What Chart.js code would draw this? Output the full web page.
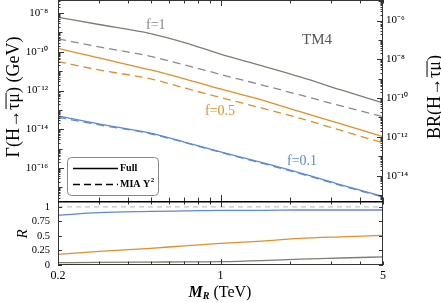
<!DOCTYPE html>
<html><head><meta charset="utf-8">
<script src="https://cdn.jsdelivr.net/npm/chart.js@4/dist/chart.umd.min.js"></script>
<style>
html,body{margin:0;padding:0;background:#fff;width:441px;height:303px;overflow:hidden}
canvas{position:absolute;left:0}
#c1{top:0}
#c2{top:201px}
</style></head><body>
<canvas id="c1" width="441" height="202"></canvas>
<canvas id="c2" width="441" height="102"></canvas>
<script>
// ---- data ----
const massTeV = [0.2, 0.3, 0.5, 0.7, 1, 1.5, 2.2, 3.3, 5];
const gammaFullF1  = [6.0e-9, 2.55e-9, 8.7e-10, 3.0e-10, 7.6e-11, 1.9e-11, 5.0e-12, 1.07e-12, 2.3e-13];
const gammaMiaF1   = [4.6e-10, 1.8e-10, 5.8e-11, 2.1e-11, 6.8e-12, 1.95e-12, 5.9e-13, 1.6e-13, 4.5e-14];
const gammaFullF05 = [1.5e-10, 4.8e-11, 1.15e-11, 4.0e-12, 1.2e-12, 3.3e-13, 8.1e-14, 1.9e-14, 4.2e-15];
const gammaMiaF05  = [3.1e-11, 1.15e-11, 4.0e-12, 1.35e-12, 4.4e-13, 1.26e-13, 3.7e-14, 8.7e-15, 2.0e-15];
const gammaFullF01 = [4.9e-14, 1.9e-14, 6.3e-15, 2.2e-15, 6.9e-16, 1.95e-16, 5.6e-17, 1.35e-17, 3.4e-18];
const gammaMiaF01  = [4.2e-14, 1.7e-14, 5.9e-15, 2.1e-15, 6.5e-16, 1.8e-16, 5.2e-17, 1.26e-17, 3.2e-18];
const ratioF1  = [0.040, 0.045, 0.050, 0.053, 0.057, 0.075, 0.100, 0.120, 0.140];
const ratioF05 = [0.183, 0.235, 0.286, 0.330, 0.370, 0.410, 0.457, 0.485, 0.510];
const ratioF01 = [0.856, 0.900, 0.920, 0.930, 0.940, 0.940, 0.945, 0.945, 0.945];
const refLineMass = [0.2, 5];
const refLineRatio = [1, 1];
const gammaTicks = [1e-16, 1e-14, 1e-12, 1e-10, 1e-8];
const brTicks = [1e-14, 1e-12, 1e-10, 1e-8, 1e-6];
const massTicks = [0.2, 1, 5];
const massTickLabels = ['0.2', '1', '5'];
const ratioTicks = [0, 0.25, 0.5, 0.75, 1];
const ratioTickLabels = ['0', '0.25', '0.5', '0.75', '1'];
const curveLabels = ['f=1', 'f=0.5', 'f=0.1'];
const legendLabels = ['Full', 'MIA Y'];

// ---- scale ranges / styles ----
const G_MIN = 2.0e-18, G_MAX = 4.68e-8;
const WIDTH_H = 4.07e-3; // GeV, total Higgs width -> BR axis
const C_GRAY = '#7b8070', C_GRAY_D = '#8a8a8a', C_ORANGE = '#e0902a', C_BLUE = '#5b8bd4';
const SERIF = '"Liberation Serif", "Times New Roman", serif';

const SUP = {'-':'\u207B','0':'\u2070','1':'\u00B9','2':'\u00B2','3':'\u00B3','4':'\u2074','5':'\u2075','6':'\u2076','7':'\u2077','8':'\u2078','9':'\u2079'};
function pow10Label(v){ const e = Math.round(Math.log10(v)); return '10' + String(e).split('').map(c => SUP[c]).join(''); }

function series(label, ys, color, dash, xs){
  xs = xs || massTeV;
  return {label, data: xs.map((m,i)=>({x:m, y:ys[i]})), borderColor: color, borderWidth: 1.3,
    borderDash: dash || [], pointRadius: 0, fill: false, cubicInterpolationMode: 'monotone'};
}

function logTicks(min, max){
  const out = [];
  for (let n = Math.floor(Math.log10(min)); n <= Math.ceil(Math.log10(max)); n++)
    for (let k = 1; k < 10; k++){ const v = k*Math.pow(10,n); if (v >= min*0.999 && v <= max*1.001) out.push({v, k, n}); }
  return out;
}
function line(ctx, x1, y1, x2, y2){ ctx.beginPath(); ctx.moveTo(x1,y1); ctx.lineTo(x2,y2); ctx.stroke(); }

function drawOverlined(ctx, parts, x, y){ // parts: [text, overline?]
  let w = 0; parts.forEach(p => w += ctx.measureText(p[0]).width);
  let cx = x - w/2;
  const size = parseFloat(ctx.font);
  parts.forEach(p => {
    const pw = ctx.measureText(p[0]).width;
    ctx.fillText(p[0], cx, y);
    if (p[1]) { ctx.lineWidth = 1; line(ctx, cx+1, y - size*0.72, cx + pw, y - size*0.72); }
    cx += pw;
  });
}

const mainDeco = {
  id: 'mainDeco',
  afterDraw(chart){
    const ctx = chart.ctx, ca = chart.chartArea, xs = chart.scales.x, ys = chart.scales.y, y2 = chart.scales.y2;
    ctx.save();
    ctx.strokeStyle = '#333'; ctx.lineWidth = 1;
    const L = Math.round(ca.left)+0.5, R = Math.round(ca.right)-0.5, T = Math.round(ca.top)+0.5;
    line(ctx, L, 0, L, ca.bottom); line(ctx, R, 0, R, ca.bottom); line(ctx, ca.left, T, ca.right, T);
    logTicks(0.2, 5).forEach(t => {
      const px = Math.round(xs.getPixelForValue(t.v)) + 0.5;
      const len = (t.k === 1) ? 6 : 3.5;
      line(ctx, px, ca.top, px, ca.top + len);
      line(ctx, px, ca.bottom, px, ca.bottom - len);
    });
    logTicks(G_MIN, G_MAX).forEach(t => {
      const py = Math.round(ys.getPixelForValue(t.v)) + 0.5;
      const len = t.k === 1 ? (t.n % 2 === 0 ? 6 : 4.5) : 2.5;
      line(ctx, ca.left, py, ca.left + len, py);
    });
    logTicks(y2.min, y2.max).forEach(t => {
      const py = Math.round(y2.getPixelForValue(t.v)) + 0.5;
      const len = t.k === 1 ? (t.n % 2 === 0 ? 6 : 4.5) : 2.5;
      line(ctx, ca.right, py, ca.right - len, py);
    });
    // axis titles
    ctx.fillStyle = '#000'; ctx.strokeStyle = '#000';
    ctx.font = '18px ' + SERIF; ctx.textBaseline = 'alphabetic';
    ctx.save(); ctx.translate(19, 97); ctx.rotate(-Math.PI/2);
    drawOverlined(ctx, [['\u0393(H\u2192', false], ['\u03C4\u03BC', true], [') (GeV)', false]], 0, 0);
    ctx.restore();
    ctx.save(); ctx.translate(440, 97); ctx.rotate(-Math.PI/2);
    drawOverlined(ctx, [['BR(H\u2192', false], ['\u03C4\u03BC', true], [')', false]], 0, 0);
    ctx.restore();
    // in-plot labels
    ctx.textBaseline = 'middle'; ctx.textAlign = 'left';
    ctx.font = '15px ' + SERIF; ctx.fillStyle = '#555';
    ctx.fillText('TM4', 302, 40);
    ctx.font = '14px ' + SERIF;
    ctx.fillStyle = '#8a8a8a'; ctx.fillText(curveLabels[0], 146, 25);
    ctx.fillStyle = C_ORANGE; ctx.fillText(curveLabels[1], 205, 111);
    ctx.fillStyle = C_BLUE; ctx.fillText(curveLabels[2], 287, 161);
    // legend box
    ctx.strokeStyle = '#888'; ctx.lineWidth = 1;
    ctx.beginPath(); ctx.roundRect(67.5, 157.5, 91, 38, 4); ctx.stroke();
    ctx.strokeStyle = '#000'; ctx.lineWidth = 1.5;
    line(ctx, 73, 168.5, 118, 168.5);
    ctx.setLineDash([7,4]); line(ctx, 73, 184.5, 118, 184.5); ctx.setLineDash([]);
    ctx.fillStyle = '#000'; ctx.font = 'bold 10px ' + SERIF;
    ctx.fillText(legendLabels[0], 120, 168);
    ctx.fillText(legendLabels[1], 120, 184);
    const w = ctx.measureText(legendLabels[1]).width;
    ctx.font = 'bold 7px ' + SERIF; ctx.fillText('2', 120 + w + 0.5, 180);
    ctx.restore();
  }
};

const ratioDeco = {
  id: 'ratioDeco',
  afterDraw(chart){
    const ctx = chart.ctx, ca = chart.chartArea, xs = chart.scales.x, ys = chart.scales.y;
    ctx.save();
    ctx.strokeStyle = '#333'; ctx.lineWidth = 1;
    const L = Math.round(ca.left)+0.5, R = Math.round(ca.right)-0.5, B = Math.round(ca.bottom)-0.5;
    line(ctx, L, ca.top, L, ca.bottom); line(ctx, R, ca.top, R, ca.bottom); line(ctx, ca.left, B, ca.right, B);
    logTicks(0.2, 5).forEach(t => {
      const px = Math.round(xs.getPixelForValue(t.v)) + 0.5;
      const len = (t.k === 1) ? 6 : 3.5;
      line(ctx, px, ca.top, px, ca.top + len);
      line(ctx, px, ca.bottom, px, ca.bottom - len);
    });
    ratioTicks.forEach(v => {
      const py = Math.round(ys.getPixelForValue(v)) + 0.5;
      line(ctx, ca.left, py, ca.left + 4, py); line(ctx, ca.right, py, ca.right - 4, py);
    });
    ctx.strokeStyle = '#000'; ctx.lineWidth = 1.6;
    line(ctx, ca.left, ca.top + 0.8, ca.right, ca.top + 0.8);
    ctx.fillStyle = '#000'; ctx.textAlign = 'center'; ctx.textBaseline = 'middle';
    ctx.font = 'italic 15px ' + SERIF;
    ctx.save(); ctx.translate(23, 33); ctx.rotate(-Math.PI/2); ctx.fillText('R', 0, 0); ctx.restore();
    ctx.textAlign = 'left'; ctx.textBaseline = 'alphabetic';
    const f1 = 'bold italic 16px ' + SERIF, f2 = 'bold italic 10px ' + SERIF, f3 = '16px ' + SERIF;
    ctx.font = f1; const wM = ctx.measureText('M').width;
    ctx.font = f2; const wR = ctx.measureText('R').width;
    ctx.font = f3; const wT = ctx.measureText(' (TeV)').width;
    let x = 220 - (wM + wR + wT)/2, y = 96;
    ctx.font = f1; ctx.fillText('M', x, y); x += wM;
    ctx.font = f2; ctx.fillText('R', x, y + 2); x += wR;
    ctx.font = f3; ctx.fillText(' (TeV)', x, y);
    ctx.restore();
  }
};

const tickFont = {family: SERIF, size: 11};
const noGrid = {display: false, drawTicks: false};

new Chart(document.getElementById('c1'), {
  type: 'line',
  data: { datasets: [
    series('Full f=1', gammaFullF1, C_GRAY),
    series('MIA f=1', gammaMiaF1, C_GRAY_D, [8,5]),
    series('Full f=0.5', gammaFullF05, C_ORANGE),
    series('MIA f=0.5', gammaMiaF05, C_ORANGE, [8,5]),
    series('MIA f=0.1', gammaMiaF01, C_BLUE, [8,5]),
    series('Full f=0.1', gammaFullF01, C_BLUE)
  ]},
  options: {
    responsive: false, animation: false, devicePixelRatio: 1,
    layout: {padding: 0},
    plugins: {legend: {display: false}, tooltip: {enabled: false}},
    scales: {
      x: {type: 'logarithmic', min: 0.2, max: 5, ticks: {display: false}, grid: noGrid, border: {display: false},
          afterFit(s){ s.height = 1; s.paddingLeft = 0; s.paddingRight = 0; }},
      y: {type: 'logarithmic', position: 'left', min: G_MIN, max: G_MAX,
          afterBuildTicks(s){ s.ticks = gammaTicks.map(v => ({value: v})); },
          ticks: {callback: v => pow10Label(v), font: tickFont, color: '#000', padding: 10, autoSkip: false},
          grid: noGrid, border: {display: false},
          afterFit(s){ s.width = 58; s.paddingTop = 0; s.paddingBottom = 0; }},
      y2: {type: 'logarithmic', position: 'right', min: G_MIN / WIDTH_H, max: G_MAX / WIDTH_H,
          afterBuildTicks(s){ s.ticks = brTicks.map(v => ({value: v})); },
          ticks: {callback: v => pow10Label(v), font: tickFont, color: '#000', padding: 3, autoSkip: false},
          grid: noGrid, border: {display: false},
          afterFit(s){ s.width = 58; s.paddingTop = 0; s.paddingBottom = 0; }}
    }
  },
  plugins: [mainDeco]
});

new Chart(document.getElementById('c2'), {
  type: 'line',
  data: { datasets: [
    series('R=1', refLineRatio, '#c4c4c4', [5,4], refLineMass),
    series('R f=1', ratioF1, C_GRAY),
    series('R f=0.5', ratioF05, C_ORANGE),
    series('R f=0.1', ratioF01, C_BLUE)
  ]},
  options: {
    responsive: false, animation: false, devicePixelRatio: 1,
    layout: {padding: {right: 58}},
    plugins: {legend: {display: false}, tooltip: {enabled: false}},
    scales: {
      x: {type: 'logarithmic', min: 0.2, max: 5,
          afterBuildTicks(s){ s.ticks = massTicks.map(v => ({value: v})); },
          ticks: {callback: (v, i) => massTickLabels[i], font: {family: SERIF, size: 12}, color: '#000', padding: 4, autoSkip: false, maxRotation: 0},
          grid: noGrid, border: {display: false},
          afterFit(s){ s.height = 38; s.paddingLeft = 0; s.paddingRight = 0; }},
      y: {type: 'linear', min: 0, max: 1.1,
          afterBuildTicks(s){ s.ticks = ratioTicks.map(v => ({value: v})); },
          ticks: {callback: (v, i) => ratioTickLabels[i], font: {family: SERIF, size: 10.5}, color: '#000', padding: 8, autoSkip: false},
          grid: noGrid, border: {display: false},
          afterFit(s){ s.width = 58; s.paddingTop = 0; s.paddingBottom = 0; }}
    }
  },
  plugins: [ratioDeco]
});
</script>
</body></html>
